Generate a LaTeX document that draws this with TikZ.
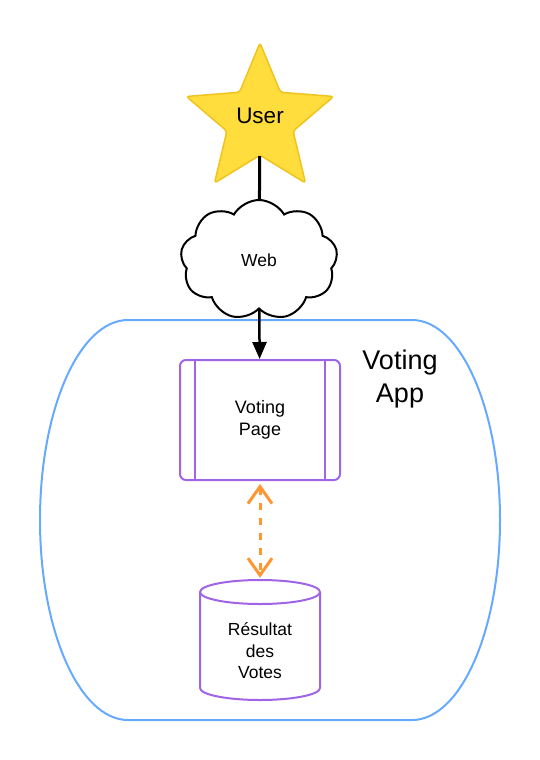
\documentclass[tikz,border=0pt]{standalone}
\usepackage{fontspec}
\setmainfont{Liberation Sans}
\usetikzlibrary{shapes.geometric,shapes.symbols,arrows.meta}
\definecolor{starf}{RGB}{255,221,60}
\definecolor{starb}{RGB}{240,195,30}
\definecolor{appblue}{RGB}{102,170,255}
\definecolor{purp}{RGB}{160,100,230}
\definecolor{orng}{RGB}{255,150,50}
\begin{document}
\begin{tikzpicture}[x=1pt,y=-1pt,
  userstar/.style={star, star points=5, star point ratio=2.23, minimum size=155pt, inner sep=0pt,
    draw=starb, fill=starf, line width=1.5pt, rounded corners=3pt},
  webcloud/.style={cloud, draw, cloud puffs=9, cloud puff arc=120, aspect=1.33, minimum width=157pt,
    minimum height=120pt, inner sep=0pt, line width=2pt, fill=white, font=\fontsize{17.5}{20}\selectfont},
  pagebox/.style={draw=purp, line width=2pt, rounded corners=6pt, minimum width=160pt, minimum height=120pt,
    inner sep=0pt, fill=white},
  pagetext/.style={align=center, font=\fontsize{18}{22}\selectfont},
  dbtext/.style={align=center, font=\fontsize{17.5}{21.5}\selectfont},
  solidlink/.style={line width=3pt, black},
  datalink/.style={line width=3pt, orng, dash pattern=on 7pt off 8pt,
    {Straight Barb[length=17pt,width=24pt]}-{Straight Barb[length=17pt,width=24pt]}}
]
\useasboundingbox (0,0) rectangle (540,760);
% container
\draw[appblue, line width=2pt] (128,320) -- (412,320) .. controls (460.6,320) and (500,409.5) .. (500,520)
  .. controls (500,630.5) and (460.6,720) .. (412,720) -- (128,720)
  .. controls (79.4,720) and (40,630.5) .. (40,520) .. controls (40,409.5) and (79.4,320) .. (128,320) -- cycle;
\node[font=\fontsize{27}{33}\selectfont, align=center] (applabel) at (400,379) {Voting\\App};
% nodes
\node[userstar] (user) at (260,120.4) {};
\node[font=\fontsize{22.5}{26}\selectfont] (usert) at (260,116) {User};
\node[webcloud] (web) at (259,260) {Web};
\node[pagebox] (vp) at (260,420) {};
\draw[purp, line width=2pt] ([xshift=16pt]vp.north west) -- ([xshift=16pt]vp.south west);
\draw[purp, line width=2pt] ([xshift=-16pt]vp.north east) -- ([xshift=-16pt]vp.south east);
\node[pagetext] (vpt) at (260,420) {Voting\\Page};
\node[minimum width=120pt, minimum height=120pt, inner sep=0pt] (db) at (260,640) {};
\draw[purp, line width=2pt, fill=white] (200,592) -- (200,688) .. controls (200,694.6) and (226.9,700) .. (260,700)
  .. controls (293.1,700) and (320,694.6) .. (320,688) -- (320,592);
\draw[purp, line width=2pt] (260,592) ellipse [x radius=60pt, y radius=12pt];
\node[dbtext] (dbt) at (260,651) {Résultat\\des\\Votes};
% connectors
\draw[solidlink] (user) -- (web);
\draw[solidlink, line width=2.5pt, -{Triangle[length=17pt,width=14pt]}] (web) -- (vp);
\draw[datalink, shorten <=3pt, shorten >=2pt] (vp.south) -- (db.north);
\end{tikzpicture}
\end{document}
